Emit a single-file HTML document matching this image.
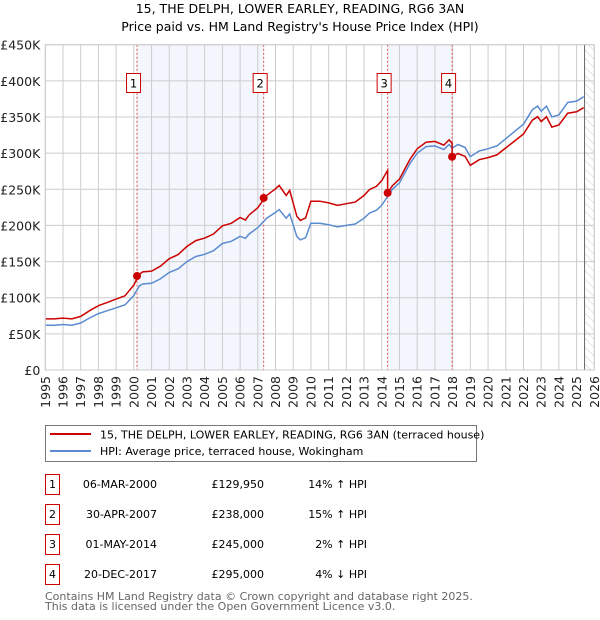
<!DOCTYPE html>
<html><head><meta charset="utf-8"><style>
body{margin:0;background:#fff;}
svg{display:block;font-family:"DejaVu Sans","Liberation Sans",sans-serif;}
</style></head><body>
<svg id="c" width="600" height="620" viewBox="0 0 600 620">
<g id="g"></g>
</svg>
<script>
const years=[1995,1995.5,1996,1996.5,1997,1997.5,1998,1998.5,1999,1999.5,2000,2000.3,2000.5,2001,2001.5,2002,2002.5,2003,2003.5,2004,2004.5,2005,2005.5,2006,2006.3,2006.5,2007,2007.5,2008,2008.2,2008.6,2008.8,2009.2,2009.4,2009.7,2010,2010.5,2011,2011.5,2012,2012.5,2013,2013.3,2013.7,2014,2014.33,2014.6,2015,2015.6,2016,2016.5,2017,2017.5,2017.8,2017.97,2018.3,2018.7,2019,2019.5,2020,2020.5,2021,2021.5,2022,2022.5,2022.8,2023,2023.3,2023.6,2024,2024.5,2025,2025.4];
const hpi=[62,62,63,62,65,72,78,82,86,90,103,116,119,120,126,135,140,150,157,160,165,175,178,185,182,188,197,210,218,222,210,216,185,180,183,203,203,201,198,200,202,210,217,221,228,240,250,259,286,300,309,310,305,312,307,312,308,295,303,306,310,320,330,340,360,365,358,365,350,353,370,372,378];
const saleYears=[2000.18,2007.33,2014.33,2017.97];
const salePrices=[129.95,238,245,295];
const saleRatios=[1.14,1.15,1.02,0.96];
const saleLabels=["1","2","3","4"];
const yTicks=[0,50,100,150,200,250,300,350,400,450];
const yTickLabels=["£0","£50K","£100K","£150K","£200K","£250K","£300K","£350K","£400K","£450K"];
const xTicks=[1995,1996,1997,1998,1999,2000,2001,2002,2003,2004,2005,2006,2007,2008,2009,2010,2011,2012,2013,2014,2015,2016,2017,2018,2019,2020,2021,2022,2023,2024,2025,2026];
const rowDates=["06-MAR-2000","30-APR-2007","01-MAY-2014","20-DEC-2017"];
const rowPrices=["£129,950","£238,000","£245,000","£295,000"];
const rowDiffs=["14% ↑ HPI","15% ↑ HPI","2% ↑ HPI","4% ↓ HPI"];

const X0=45.3,X1=594.3,Y0=370,Y1=44.7;
const xs=y=>X0+(y-1995)/(2026-1995)*(X1-X0);
const ys=v=>Y0-v/450*(Y0-Y1);
const g=document.getElementById('g');
const NS='http://www.w3.org/2000/svg';
function mk(t,a,txt){const e=document.createElementNS(NS,t);for(const k in a)e.setAttribute(k,a[k]);if(txt!==undefined)e.textContent=txt;g.appendChild(e);return e;}

let e;
e=mk('text',{x:300,y:13,'text-anchor':'middle','font-size':12.5},'15, THE DELPH, LOWER EARLEY, READING, RG6 3AN');


e=mk('text',{x:300,y:31,'text-anchor':'middle','font-size':12.5},"Price paid vs. HM Land Registry's House Price Index (HPI)");



e=mk('rect',{x:xs(saleYears[0]),y:Y1,width:xs(saleYears[1])-xs(saleYears[0]),height:Y0-Y1,fill:'#f3f6fd'});


e=mk('rect',{x:xs(saleYears[2]),y:Y1,width:xs(saleYears[3])-xs(saleYears[2]),height:Y0-Y1,fill:'#f3f6fd'});


const hx=xs(2025.45);
const defs=document.createElementNS(NS,'defs');
defs.innerHTML='<pattern id="h" width="6" height="6" patternUnits="userSpaceOnUse" patternTransform="rotate(-45)"><line x1="0" y1="0" x2="0" y2="6" stroke="#ccc" stroke-width="1"/></pattern>';
g.appendChild(defs);
e=mk('rect',{x:hx,y:Y1,width:X1-hx,height:Y0-Y1,fill:'url(#h)'});



yTicks.forEach((v,i)=>{
 e=mk('line',{x1:X0,x2:X1,y1:ys(v),y2:ys(v),stroke:'#ccc','stroke-width':1});
 
 
 e=mk('text',{x:X0-5,y:ys(v)+5,'text-anchor':'end','font-size':12.5,fill:'#222'},yTickLabels[i]);
 
 
});
xTicks.forEach(y=>{
 e=mk('line',{x1:xs(y),x2:xs(y),y1:Y1,y2:Y0,stroke:'#ccc','stroke-width':1});
 
 
 e=mk('text',{x:0,y:0,'text-anchor':'end','font-size':12.5,fill:'#222',transform:`translate(${xs(y)+4.5},${Y0+6}) rotate(-90)`},String(y));
 
 
});
e=mk('line',{x1:hx,x2:hx,y1:Y1,y2:Y0,stroke:'#666','stroke-width':1});



saleYears.forEach((s,i)=>{
 e=mk('line',{x1:xs(s),x2:xs(s),y1:Y1,y2:Y0,stroke:'#e05050','stroke-width':1,'stroke-dasharray':'2,2'});
 
 
 e=mk('rect',{x:xs(s)-10.5,y:73.5,width:14,height:19,fill:'#fff',stroke:'#c00','stroke-width':1});
 
 
 e=mk('text',{x:xs(s)-3.5,y:87.5,'text-anchor':'middle','font-size':11.5},saleLabels[i]);
 
 
});

function ratioAt(y){let r=saleRatios[0];for(let i=0;i<saleYears.length;i++)if(y>=saleYears[i])r=saleRatios[i];return r;}
const red=hpi.map((v,i)=>v*ratioAt(years[i]));
let rp=[];years.forEach((y,i)=>{
 saleYears.forEach((s,k)=>{if(k>0&&y>=s&&(i===0||years[i-1]<s)){rp.push([s,salePrices[k]/saleRatios[k]*saleRatios[k-1]]);rp.push([s,salePrices[k]]);}});
 rp.push([y,red[i]]);
});
e=mk('path',{d:'M'+hpi.map((v,i)=>xs(years[i]).toFixed(1)+','+ys(v).toFixed(1)).join('L'),fill:'none',stroke:'#5b8bd0','stroke-width':1.5});


e=mk('path',{d:'M'+rp.map(p=>xs(p[0]).toFixed(1)+','+ys(p[1]).toFixed(1)).join('L'),fill:'none',stroke:'#cc0000','stroke-width':1.5});


saleYears.forEach((s,i)=>{
 e=mk('circle',{cx:xs(s),cy:ys(salePrices[i]),r:4,fill:'#cc0000'});
 
 
});
e=mk('rect',{x:X0,y:Y1,width:X1-X0,height:Y0-Y1,fill:'none',stroke:'#ccc'});



e=mk('rect',{x:45.5,y:425.5,width:431,height:36,fill:'#fff',stroke:'#777'});


e=mk('line',{x1:50,x2:91,y1:434,y2:434,stroke:'#cc0000','stroke-width':2});


e=mk('text',{x:100,y:438.5,'font-size':11},'15, THE DELPH, LOWER EARLEY, READING, RG6 3AN (terraced house)');


e=mk('line',{x1:50,x2:91,y1:451,y2:451,stroke:'#5b8bd0','stroke-width':2});


e=mk('text',{x:100,y:455,'font-size':11},'HPI: Average price, terraced house, Wokingham');



rowDates.forEach((d,i)=>{
 const cy=483+i*30;
 e=mk('rect',{x:45.5,y:cy-8.5,width:14,height:20,fill:'#fff',stroke:'#c00'});
 
 
 e=mk('text',{x:52.5,y:cy+5,'text-anchor':'middle','font-size':11},saleLabels[i]);
 
 
 e=mk('text',{x:157,y:cy+5,'text-anchor':'end','font-size':11},d);
 
 
 e=mk('text',{x:264,y:cy+5,'text-anchor':'end','font-size':11},rowPrices[i]);
 
 
 e=mk('text',{x:367,y:cy+5,'text-anchor':'end','font-size':11},rowDiffs[i]);
 
 
});
e=mk('text',{x:45,y:600,'font-size':11,fill:'#666'},'Contains HM Land Registry data © Crown copyright and database right 2025.');


e=mk('text',{x:45,y:610,'font-size':11,fill:'#666'},'This data is licensed under the Open Government Licence v3.0.');


</script>
</body></html>
